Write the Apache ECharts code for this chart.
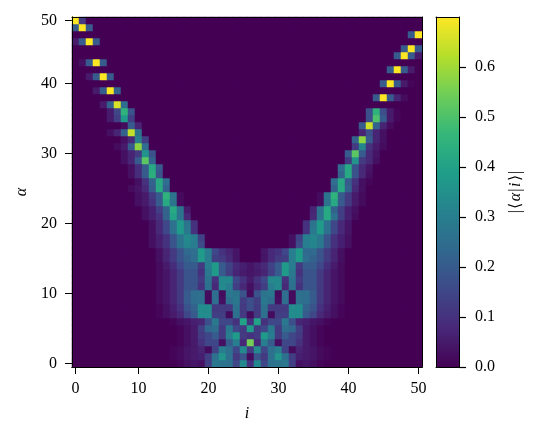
<!DOCTYPE html>
<html>
<head>
<meta charset="utf-8">
<title>heatmap</title>
<script src="https://cdn.jsdelivr.net/npm/echarts@6/dist/echarts.min.js"></script>
<style>
  html, body { margin: 0; padding: 0; background: #fff; }
  #main { width: 539px; height: 436px; }
</style>
</head>
<body>
<div id="main"></div>
<script>
  // 50 x 50 cells, axis ticks sit on these cell indices
  const cellCount = 50;
  const xTickIndex = [0, 9, 19, 29, 39, 49];
  const xTickLabels = ['0', '10', '20', '30', '40', '50'];
  const yTickIndex = [0, 10, 20, 30, 40, 49];
  const yTickLabels = ['0', '10', '20', '30', '40', '50'];
  // last step is the top end of the bar, it gets no tick
  const colorbarLabels = ['0.0', '0.1', '0.2', '0.3', '0.4', '0.5', '0.6', '0.7'];
  const colorbarTicks = [0, 0.1, 0.2, 0.3, 0.4, 0.5, 0.6];
  const colorMax = 0.7;
  const viridis = ['#440154', '#482878', '#3e4989', '#31688e', '#26828e', '#1f9e89', '#35b779', '#6ece58', '#b5de2b', '#fde725'];

  // row alpha -> list of [first column, values...], everything else is 0
  const rows = [
    [[15, .01, .03, .04, .03, .13, .28, .27, .26, .15, .33, .1, .33, .15, .26, .27, .28, .13, .03, .04, .03, .01]],
    [[14, .01, .02, .04, .05, .06, .13, .26, .36, .26, .12, .18, .02, .18, .12, .26, .36, .26, .13, .06, .05, .04, .02, .01]],
    [[14, .01, .02, .04, .05, .07, .02, .14, .3, .26, .15, .33, .12, .33, .15, .26, .3, .14, .02, .07, .05, .04, .02, .01]],
    [[15, .01, .03, .05, .1, .15, .15, .03, .2, .3, .08, .55, .08, .3, .2, .03, .15, .15, .1, .05, .03, .01]],
    [[15, .01, .03, .05, .12, .15, .2, .12, .3, .38, .12, .1, .12, .38, .3, .12, .2, .15, .12, .05, .03, .01]],
    [[15, .01, .03, .05, .13, .23, .25, .12, .28, .15, .12, .38, .12, .15, .28, .12, .25, .23, .13, .05, .03, .01]],
    [[14, .01, .03, .04, .06, .07, .17, .28, .15, .15, .1, .4, .1, .4, .1, .15, .15, .28, .17, .07, .06, .04, .03, .01]],
    [[12, .01, .03, .05, .08, .15, .2, .34, .34, .13, .13, .02, .26, .12, .02, .12, .26, .02, .13, .13, .34, .34, .2, .15, .08, .05, .03, .01]],
    [[12, .01, .03, .06, .1, .18, .22, .34, .34, .12, .12, .12, .26, .12, .17, .12, .26, .12, .12, .12, .34, .34, .22, .18, .1, .06, .03, .01]],
    [[12, .02, .04, .07, .12, .2, .25, .26, .02, .25, .03, .25, .28, .13, .17, .13, .28, .25, .03, .25, .02, .26, .25, .2, .12, .07, .04, .02]],
    [[12, .02, .04, .07, .12, .2, .25, .26, .02, .25, .02, .28, .27, .18, .02, .18, .27, .28, .02, .25, .02, .26, .25, .2, .12, .07, .04, .02]],
    [[12, .02, .04, .07, .12, .18, .18, .1, .26, .08, .33, .3, .13, .08, .03, .08, .13, .3, .33, .08, .26, .1, .18, .18, .12, .07, .04, .02]],
    [[12, .02, .04, .07, .12, .18, .18, .12, .27, .1, .33, .33, .15, .1, .05, .1, .15, .33, .33, .1, .27, .12, .18, .18, .12, .07, .04, .02]],
    [[12, .02, .04, .07, .12, .18, .18, .1, .28, .38, .2, .13, .07, .05, .04, .05, .07, .13, .2, .38, .28, .1, .18, .18, .12, .07, .04, .02]],
    [[12, .02, .05, .09, .15, .2, .2, .12, .3, .38, .2, .14, .08, .06, .04, .06, .08, .14, .2, .38, .3, .12, .2, .2, .15, .09, .05, .02]],
    [[12, .03, .07, .12, .18, .22, .25, .38, .3, .13, .12, .08, .04], [27, .04, .08, .12, .13, .3, .38, .25, .22, .18, .12, .07, .03]],
    [[12, .03, .07, .12, .18, .24, .25, .38, .3, .15, .1, .07, .04], [27, .04, .08, .1, .15, .3, .38, .24, .24, .18, .12, .07, .03]],
    [[11, .03, .06, .1, .18, .27, .32, .3, .16], [31, .03, .16, .3, .32, .28, .18, .1, .06, .03]],
    [[11, .03, .06, .1, .18, .27, .33, .3, .14], [31, .03, .14, .3, .32, .28, .18, .1, .06, .03]],
    [[11, .03, .08, .15, .26, .38, .28, .1], [33, .1, .28, .38, .26, .15, .08, .04]],
    [[11, .03, .08, .15, .26, .38, .27, .1], [33, .1, .27, .38, .26, .15, .08, .04]],
    [[10, .03, .06, .1, .22, .4, .27, .08], [34, .08, .27, .42, .26, .13, .06, .02]],
    [[10, .03, .06, .13, .22, .42, .27, .05], [34, .07, .27, .42, .22, .13, .06, .03]],
    [[9, .03, .05, .1, .2, .42, .27, .02], [35, .02, .27, .42, .2, .12, .05, .02]],
    [[9, .03, .05, .12, .2, .45, .27, .02], [35, .02, .27, .45, .2, .12, .05, .02]],
    [[8, .02, .04, .08, .2, .42, .22], [37, .22, .42, .22, .08, .03]],
    [[9, .03, .1, .22, .42, .25], [37, .25, .42, .2, .1, .03, .01]],
    [[8, .03, .09, .2, .44, .18], [38, .22, .42, .18, .08, .03]],
    [[8, .03, .09, .2, .42, .2], [38, .25, .42, .18, .08, .04]],
    [[7, .03, .07, .2, .52, .22], [39, .12, .36, .12, .08, .03]],
    [[7, .03, .07, .12, .36, .18], [39, .2, .52, .2, .08, .04]],
    [[6, .02, .05, .2, .58, .25], [40, .12, .32, .1, .05, .02]],
    [[7, .03, .08, .3, .13], [40, .22, .58, .2, .07, .03]],
    [[5, .03, .07, .22, .64, .27], [41, .07, .17, .07, .03]],
    [[7, .02, .2, .07], [41, .2, .65, .22, .07, .02]],
    [[5, .05, .13, .38, .13], [42, .17, .5, .2, .05, .01]],
    [[5, .05, .15, .45, .18], [42, .17, .45, .17, .05, .01]],
    [[4, .05, .22, .66, .25]],
    [[43, .2, .7, .2, .07, .02]],
    [[3, .05, .2, .7, .22]],
    [[44, .2, .7, .2, .05, .01]],
    [[2, .05, .2, .7, .2]],
    [[45, .2, .7, .2, .05]],
    [[1, .03, .2, .7, .2]],
    [[46, .2, .7, .2, .05]],
    [[47, .2, .7, .2]],
    [[0, .05, .2, .7, .2]],
    [[48, .2, .7]],
    [[0, .2, .7, .2]],
    [[0, .7, .12]],
  ];

  const cells = [];
  const rowNames = [];
  const colNames = [];
  for (let c = 0; c < cellCount; c++) {
    colNames.push(c);
    rowNames.push(c);
  }
  for (let r = 0; r < cellCount; r++) {
    const line = new Array(cellCount).fill(0);
    rows[r].forEach((span) => {
      span.slice(1).forEach((v, k) => {
        line[span[0] + k] = v;
      });
    });
    line.forEach((v, c) => cells.push([c, r, v]));
  }

  const fontName = 'Liberation Serif';
  const fontSize = 16;
  const tickLine = { color: '#000', width: 1 };
  const frameLine = { show: true, onZero: false, lineStyle: { color: '#000', width: 1 } };

  // axis that only draws one side of the box around a plot, above the cells
  function frame(type, position, gridIndex, data) {
    return {
      type: type,
      position: position,
      gridIndex: gridIndex,
      data: data,
      z: 5,
      axisLine: frameLine,
      axisTick: { show: false },
      axisLabel: { show: false },
      splitLine: { show: false },
    };
  }

  const chart = echarts.init(document.getElementById('main'));
  const option = {
    backgroundColor: '#fff',
    animation: false,
    grid: [
      { left: 72, top: 17, width: 350, height: 350 },
      { left: 436, top: 17, width: 23, height: 350 },
    ],
    xAxis: [
      {
        type: 'category',
        data: colNames,
        gridIndex: 0,
        position: 'bottom',
        axisLine: frameLine,
        axisTick: {
          show: true,
          length: 7,
          lineStyle: tickLine,
          alignWithLabel: true,
          interval: (i) => xTickIndex.includes(i),
        },
        axisLabel: {
          margin: 14,
          fontFamily: fontName,
          fontSize: fontSize,
          color: '#000',
          interval: (i) => xTickIndex.includes(i),
          formatter: (v, i) => xTickLabels[xTickIndex.indexOf(i)],
        },
        splitLine: { show: false },
        name: 'i',
        nameLocation: 'middle',
        nameGap: 39,
        nameTextStyle: { fontFamily: fontName, fontSize: fontSize, fontStyle: 'italic', color: '#000' },
      },
      frame('category', 'top', 0, colNames),
      frame('category', 'bottom', 0, colNames),
      {
        type: 'category',
        data: [''],
        gridIndex: 1,
        position: 'bottom',
        z: 5,
        axisLine: frameLine,
        axisTick: { show: false },
        axisLabel: { show: false },
      },
      frame('category', 'top', 1, ['']),
    ],
    yAxis: [
      {
        type: 'category',
        data: rowNames,
        gridIndex: 0,
        position: 'left',
        axisLine: frameLine,
        axisTick: {
          show: true,
          length: 7,
          lineStyle: tickLine,
          alignWithLabel: true,
          interval: (i) => yTickIndex.includes(i),
        },
        axisLabel: {
          margin: 15,
          fontFamily: fontName,
          fontSize: fontSize,
          color: '#000',
          interval: (i) => yTickIndex.includes(i),
          formatter: (v, i) => yTickLabels[yTickIndex.indexOf(i)],
        },
        splitLine: { show: false },
        name: 'α',
        nameLocation: 'middle',
        nameGap: 42,
        nameRotate: 90,
        nameTextStyle: { fontFamily: fontName, fontSize: fontSize, fontStyle: 'italic', color: '#000' },
      },
      frame('category', 'right', 0, rowNames),
      frame('category', 'left', 0, rowNames),
      {
        type: 'category',
        data: colorbarLabels,
        boundaryGap: false,
        gridIndex: 1,
        position: 'right',
        z: 5,
        axisLine: frameLine,
        axisTick: { show: false },
        axisLabel: {
          margin: 16,
          fontFamily: fontName,
          fontSize: fontSize,
          color: '#000',
          interval: (i) => i < colorbarLabels.length - 1,
        },
        splitLine: { show: false },
        name: '|\u200a⟨\u200a{it|α}\u200a|\u200a{it|i}\u200a⟩\u200a|',
        nameLocation: 'middle',
        nameGap: 49,
        nameRotate: 90,
        nameTextStyle: {
          fontFamily: fontName,
          fontSize: fontSize,
          color: '#000',
          rich: { it: { fontFamily: fontName, fontSize: fontSize, fontStyle: 'italic', color: '#000' } },
        },
      },
      { ...frame('value', 'left', 1), min: 0, max: colorMax },
    ],
    visualMap: {
      show: false,
      seriesIndex: 0,
      min: 0,
      max: colorMax,
      inRange: { color: viridis },
    },
    series: [
      {
        name: 'overlap',
        type: 'heatmap',
        xAxisIndex: 0,
        yAxisIndex: 0,
        data: cells,
        itemStyle: { borderWidth: 0 },
        emphasis: { disabled: true },
      },
      {
        name: 'colorbar',
        type: 'bar',
        xAxisIndex: 3,
        yAxisIndex: 4,
        data: [colorMax],
        barWidth: '100%',
        silent: true,
        itemStyle: {
          color: new echarts.graphic.LinearGradient(0, 1, 0, 0, viridis.map((c, i) => ({
            offset: i / (viridis.length - 1),
            color: c,
          }))),
        },
      },
    ],
  };
  chart.setOption(option);

  // colorbar ticks, placed through the colorbar's own value scale
  const barRight = chart.convertToPixel({ gridIndex: 1 }, [0, 0])[0] + 11.5;
  chart.setOption({
    graphic: colorbarTicks.map((v) => {
      const y = Math.round(chart.convertToPixel({ yAxisIndex: 4 }, v)) + 0.5;
      return {
        type: 'line',
        z: 100,
        shape: { x1: barRight, y1: y, x2: barRight + 7, y2: y },
        style: { stroke: '#000', lineWidth: 1.2 },
      };
    }),
  });
</script>
</body>
</html>
